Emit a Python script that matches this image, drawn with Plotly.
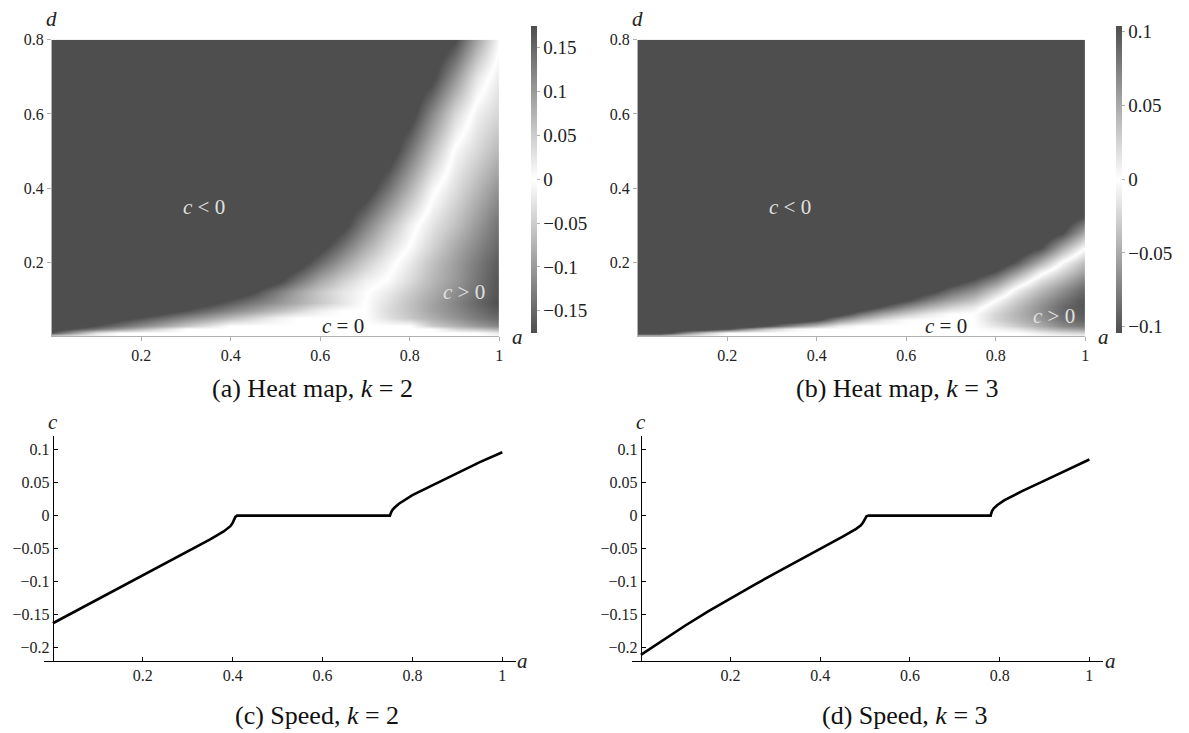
import plotly.graph_objects as go

# the page body keeps its default 8 px margin, so every position below is
# given in window pixels and shifted by that margin
OFF = 8
W, H = 1189, 733

# ---- heat map grids (a along columns, d along rows) ----
a_grid = [0, 0.05, 0.1, 0.15, 0.2, 0.25, 0.3, 0.35, 0.4, 0.45, 0.5,
          0.55, 0.6, 0.65, 0.7, 0.75, 0.8, 0.85, 0.9, 0.95, 1.0]

S2 = -0.22   # saturated (darker than colour bar end), k = 2
S3 = -0.13   # saturated, k = 3

d_k2 = [0, 0.01, 0.02, 0.03, 0.05, 0.07, 0.09, 0.12, 0.15, 0.2, 0.25, 0.3, 0.4, 0.5, 0.6, 0.7, 0.8]
z_k2 = [
    [0] * 21,
    [-0.166, -0.097, -0.028] + [0] * 17 + [0.02],
    [-0.204, -0.17, -0.136, -0.102, -0.068, -0.034] + [0] * 12 + [0.04, 0.06, 0.08],
    [S2, -0.2, -0.171, -0.143, -0.114, -0.086, -0.057, -0.029] + [0] * 9 + [0.05, 0.075, 0.1, 0.12],
    [S2, S2, -0.219, -0.193, -0.17, -0.144, -0.118, -0.093, -0.067, -0.041, -0.015] + [0] * 4
    + [0.03, 0.055, 0.08, 0.105, 0.13, 0.15],
    [S2] * 5 + [-0.195, -0.17, -0.144, -0.118, -0.093, -0.067, -0.041, -0.015, 0, 0,
                0.035, 0.06, 0.09, 0.115, 0.14, 0.165],
    [S2] * 6 + [-0.21, -0.185, -0.159, -0.132, -0.106, -0.08, -0.053, -0.026, 0,
                0.03, 0.06, 0.09, 0.12, 0.15, 0.175],
    [S2] * 8 + [-0.21, -0.18, -0.132, -0.09, -0.054, -0.024, -0.004,
                0.02, 0.05, 0.08, 0.11, 0.14, 0.17],
    [S2] * 10 + [-0.19, -0.136, -0.087, -0.046, -0.015, 0.003, 0.035, 0.07, 0.1, 0.135, 0.17],
    [S2] * 11 + [-0.2, -0.147, -0.095, -0.049, -0.012, 0.02, 0.06, 0.095, 0.13, 0.163],
    [S2] * 12 + [-0.2, -0.145, -0.089, -0.039, 0, 0.04, 0.08, 0.115, 0.15],
    [S2] * 13 + [-0.19, -0.127, -0.067, -0.015, 0.025, 0.06, 0.1, 0.14],
    [S2] * 14 + [-0.206, -0.141, -0.076, -0.01, 0.031, 0.069, 0.107],
    [S2] * 15 + [-0.209, -0.136, -0.063, 0.005, 0.038, 0.071],
    [S2] * 16 + [-0.196, -0.117, -0.039, 0.014, 0.041],
    [S2] * 17 + [-0.188, -0.106, -0.025, 0.02],
    [S2] * 18 + [-0.18, -0.09, -0.005],
]

d_k3 = [0, 0.01, 0.02, 0.03, 0.045, 0.06, 0.08, 0.1, 0.125, 0.15, 0.175, 0.2, 0.24, 0.28, 0.33, 0.4, 0.8]
z_k3 = [
    [0] * 21,
    [S3, S3, -0.074, -0.031] + [0] * 14 + [0.01, 0.02, 0.025],
    [S3] * 4 + [-0.104, -0.061, -0.028, -0.006] + [0] * 8 + [0.005, 0.015, 0.035, 0.05, 0.06],
    [S3] * 6 + [-0.097, -0.064, -0.038, -0.011] + [0] * 6 + [0.015, 0.03, 0.05, 0.07, 0.08],
    [S3] * 8 + [-0.109, -0.065, -0.037, -0.016, -0.002, 0, 0, 0, 0.025, 0.042, 0.06, 0.082, 0.092],
    [S3] * 9 + [-0.118, -0.079, -0.051, -0.031, -0.013, 0, 0, 0.025, 0.045, 0.065, 0.088, 0.098],
    [S3] * 11 + [-0.097, -0.069, -0.046, -0.027, -0.012, 0.015, 0.04, 0.065, 0.088, 0.1],
    [S3] * 12 + [-0.108, -0.078, -0.055, -0.036, 0, 0.03, 0.057, 0.08, 0.1],
    [S3] * 13 + [-0.119, -0.089, -0.067, -0.033, 0.01, 0.04, 0.065, 0.09],
    [S3] * 14 + [-0.123, -0.097, -0.067, -0.022, 0.02, 0.045, 0.075],
    [S3] * 15 + [-0.127, -0.1, -0.058, -0.007, 0.025, 0.055],
    [S3] * 17 + [-0.094, -0.045, 0.004, 0.04],
    [S3] * 18 + [-0.104, -0.049, 0],
    [S3] * 19 + [-0.104, -0.05],
    [S3] * 20 + [-0.111],
    [S3] * 21,
    [S3] * 21,
]

# ---- speed curves ----
a_k2 = [0, 0.05, 0.1, 0.15, 0.2, 0.25, 0.3, 0.35, 0.38, 0.395, 0.4, 0.403, 0.406, 0.41,
        0.75, 0.752, 0.755, 0.76, 0.77, 0.8, 0.85, 0.9, 0.95, 1.0]
c_k2 = [-0.163, -0.145, -0.127, -0.109, -0.091, -0.073, -0.055, -0.036, -0.024, -0.016, -0.011,
        -0.006, -0.002, 0, 0, 0.004, 0.008, 0.012, 0.018, 0.031, 0.048, 0.065, 0.081, 0.096]

a_k3 = [0, 0.05, 0.1, 0.15, 0.2, 0.25, 0.3, 0.35, 0.4, 0.45, 0.48, 0.49, 0.495, 0.5, 0.503, 0.508,
        0.78, 0.781, 0.783, 0.787, 0.795, 0.81, 0.85, 0.9, 0.95, 1.0]
c_k3 = [-0.211, -0.188, -0.166, -0.145, -0.125, -0.106, -0.087, -0.069, -0.051, -0.032, -0.02,
        -0.015, -0.011, -0.005, -0.001, 0, 0, 0.003, 0.007, 0.011, 0.016, 0.023, 0.037, 0.053,
        0.069, 0.085]

# ---- tick labels ----
a_ticks = [0.2, 0.4, 0.6, 0.8, 1]
a_ticktext = ["0.2", "0.4", "0.6", "0.8", "1"]
d_ticks = [0.2, 0.4, 0.6, 0.8]
d_ticktext = ["0.2", "0.4", "0.6", "0.8"]
cb2_ticks = [0.15, 0.1, 0.05, 0, -0.05, -0.1, -0.15]
cb2_text = ["0.15", "0.1", "0.05", "0", "−0.05", "−0.1", "−0.15"]
cb3_ticks = [0.1, 0.05, 0, -0.05, -0.1]
cb3_text = ["0.1", "0.05", "0", "−0.05", "−0.1"]
c_ticks = [0.1, 0.05, 0, -0.05, -0.1, -0.15, -0.2]
c_ticktext = ["0.1", "0.05", "0", "−0.05", "−0.1", "−0.15", "−0.2"]

captions = ["(a) Heat map, <i>k</i> = 2", "(b) Heat map, <i>k</i> = 3",
            "(c) Speed, <i>k</i> = 2", "(d) Speed, <i>k</i> = 3"]

FONT = "Liberation Serif"
DARK = "#4e4e4e"
AXGRAY = "#b0b0b0"
gray_scale = [[0, DARK], [0.5, "#ffffff"], [1, DARK]]


def px(x):
    return (x - OFF) / W


def py(y):
    return 1 - (y - OFF) / H


fig = go.Figure()

# heat maps
for i, (z, d, lim, ticks, text, x0) in enumerate([
        (z_k2, d_k2, 0.175, cb2_ticks, cb2_text, 0),
        (z_k3, d_k3, 0.104, cb3_ticks, cb3_text, 587)]):
    fig.add_trace(go.Heatmap(
        x=a_grid, y=d, z=z, zmin=-lim, zmax=lim, colorscale=gray_scale,
        zsmooth="best", xaxis="x" if i == 0 else "x2", yaxis="y" if i == 0 else "y2",
        hoverinfo="skip",
        colorbar=dict(x=px(533 + x0), xanchor="left", xpad=0, y=py(173), yanchor="middle",
                      len=310 / H, lenmode="fraction", thickness=6, outlinewidth=0, ypad=0,
                      tickvals=ticks, ticktext=text, ticks="outside", ticklen=3,
                      tickcolor=AXGRAY, tickfont=dict(family=FONT, size=19, color="#222")),
    ))

# speed curves
fig.add_trace(go.Scatter(x=a_k2, y=c_k2, mode="lines", line=dict(color="black", width=2.6),
                         xaxis="x3", yaxis="y3", hoverinfo="skip"))
fig.add_trace(go.Scatter(x=a_k3, y=c_k3, mode="lines", line=dict(color="black", width=2.6),
                         xaxis="x4", yaxis="y4", hoverinfo="skip"))

tickfont = dict(family=FONT, size=16, color="#222")
heat_x = dict(range=[0, 1], tickvals=a_ticks, ticktext=a_ticktext, showline=True,
              linecolor=AXGRAY, linewidth=1, ticks="outside", ticklen=4, tickcolor=AXGRAY,
              showgrid=False, zeroline=False, tickfont=tickfont)
heat_y = dict(range=[0, 0.8], tickvals=d_ticks, ticktext=d_ticktext, showline=True,
              linecolor=AXGRAY, linewidth=1, ticks="outside", ticklen=4, tickcolor=AXGRAY,
              showgrid=False, zeroline=False, tickfont=tickfont, domain=[py(332), py(32)])
line_x = dict(range=[-0.02, 1.03], tickvals=a_ticks, ticktext=a_ticktext, showline=True,
              linecolor="black", linewidth=1.2, ticks="inside", ticklen=4, tickcolor="black",
              showgrid=False, zeroline=False, tickfont=tickfont)
line_y = dict(range=[-0.22, 0.12], tickvals=c_ticks, ticktext=c_ticktext, showline=True,
              linecolor="black", linewidth=1.2, ticks="inside", ticklen=4, tickcolor="black",
              showgrid=False, zeroline=False, tickfont=tickfont, domain=[py(660), py(433)],
              anchor="free")

fig.update_layout(
    width=W, height=H, margin=dict(l=0, r=0, t=0, b=0),
    paper_bgcolor="white", plot_bgcolor="white", showlegend=False,
    xaxis=dict(heat_x, domain=[px(52), px(501)], anchor="y"),
    yaxis=dict(heat_y, anchor="x"),
    xaxis2=dict(heat_x, domain=[px(640), px(1089)], anchor="y2"),
    yaxis2=dict(heat_y, anchor="x2"),
    xaxis3=dict(line_x, domain=[px(53 - 9), px(504 + 13.5)], anchor="y3"),
    yaxis3=dict(line_y, position=px(53)),
    xaxis4=dict(line_x, domain=[px(643 - 9), px(1093 + 13.5)], anchor="y4"),
    yaxis4=dict(line_y, position=px(643)),
)

ann = []
ital = dict(family=FONT, size=21, color="#222")
# axis variable labels
for dx in (0, 588):
    ann.append(dict(x=px(52 + dx), y=py(11), text="<i>d</i>", font=ital))
    ann.append(dict(x=px(519 + dx), y=py(333), text="<i>a</i>", font=ital))
for dx in (0, 590):
    ann.append(dict(x=px(53 + dx), y=py(418), text="<i>c</i>", font=ital))
    ann.append(dict(x=px(524 + dx), y=py(660), text="<i>a</i>", font=ital))
# region labels inside heat maps
light = dict(family=FONT, size=21, color="#e0e0e0")
darkf = dict(family=FONT, size=21, color="#222")
ann += [
    dict(x=0.341, y=0.349, xref="x", yref="y", text="<i>c</i> &lt; 0", font=light),
    dict(x=0.65, y=0.029, xref="x", yref="y", text="<i>c</i> = 0", font=darkf),
    dict(x=0.92, y=0.12, xref="x", yref="y", text="<i>c</i> &gt; 0", font=light),
    dict(x=0.34, y=0.349, xref="x2", yref="y2", text="<i>c</i> &lt; 0", font=light),
    dict(x=0.689, y=0.029, xref="x2", yref="y2", text="<i>c</i> = 0", font=darkf),
    dict(x=0.929, y=0.056, xref="x2", yref="y2", text="<i>c</i> &gt; 0", font=light),
]
# captions
capfont = dict(family=FONT, size=26, color="#111")
for text, cx, cy in zip(captions, [314, 900, 318, 908], [385, 385, 715, 715]):
    ann.append(dict(x=px(cx), y=py(cy), text=text, font=capfont))

for a in ann:
    a.setdefault("xref", "paper")
    a.setdefault("yref", "paper")
    a["showarrow"] = False
    a["xanchor"] = "center"
    a["yanchor"] = "middle"
fig.update_layout(annotations=ann)

fig.write_html("out.html")
